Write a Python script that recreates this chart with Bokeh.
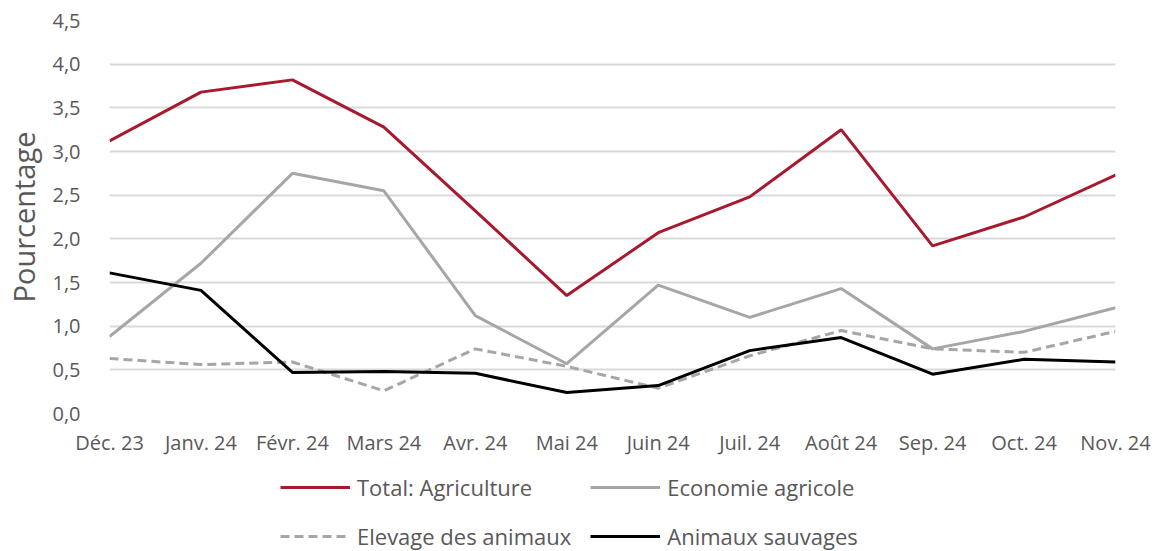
from bokeh.plotting import figure
from bokeh.layouts import column
from bokeh.models import Range1d, FixedTicker, CustomJSTickFormatter, Legend, LegendItem
from bokeh.embed import file_html
from bokeh.resources import INLINE

months = ["Déc. 23", "Janv. 24", "Févr. 24", "Mars 24", "Avr. 24", "Mai 24",
          "Juin 24", "Juil. 24", "Août 24", "Sep. 24", "Oct. 24", "Nov. 24"]
total_agriculture = [3.12, 3.68, 3.82, 3.28, 2.32, 1.35, 2.07, 2.48, 3.25, 1.92, 2.25, 2.73]
economie_agricole = [0.88, 1.72, 2.75, 2.55, 1.12, 0.57, 1.47, 1.10, 1.43, 0.74, 0.94, 1.21]
elevage_animaux = [0.63, 0.56, 0.59, 0.26, 0.74, 0.54, 0.29, 0.66, 0.95, 0.74, 0.70, 0.94]
animaux_sauvages = [1.61, 1.41, 0.47, 0.48, 0.46, 0.24, 0.32, 0.72, 0.87, 0.45, 0.62, 0.59]
y_ticks = [0, 0.5, 1, 1.5, 2, 2.5, 3, 3.5, 4, 4.5]

FONT = "Open Sans"
TXT = "#595959"
RED = "#A6192E"
GREY = "#A6A6A6"
BLACK = "#000000"

series = [
    ("Total: Agriculture", total_agriculture, RED, "solid"),
    ("Economie agricole", economie_agricole, GREY, "solid"),
    ("Elevage des animaux", elevage_animaux, GREY, "9 5"),
    ("Animaux sauvages", animaux_sauvages, BLACK, "solid"),
]

xs = list(range(len(months)))

p = figure(width=1161, height=459, output_backend="svg", toolbar_location=None,
           x_range=Range1d(0, len(months) - 1), y_range=Range1d(0, 4.5),
           min_border_left=109, min_border_right=46, min_border_top=20, min_border_bottom=46)
p.outline_line_color = None
p.background_fill_color = "white"
p.border_fill_color = "white"

p.xgrid.visible = False
p.ygrid.grid_line_color = "#D9D9D9"
p.ygrid.grid_line_width = 2

p.yaxis.ticker = FixedTicker(ticks=y_ticks)
p.yaxis.formatter = CustomJSTickFormatter(code="return tick.toFixed(1).replace('.', ',');")
p.xaxis.ticker = FixedTicker(ticks=xs)
p.xaxis.formatter = CustomJSTickFormatter(args=dict(labels=months),
                                          code="return labels[Math.round(tick)];")
for ax in (p.xaxis[0], p.yaxis[0]):
    ax.axis_line_color = None
    ax.major_tick_line_color = None
    ax.minor_tick_line_color = None
    ax.major_label_text_font = FONT
    ax.major_label_text_color = TXT
    ax.major_label_text_font_size = "20px"
p.yaxis.major_label_standoff = 23
p.xaxis.major_label_standoff = 9
p.yaxis.axis_label = "Pourcentage"
p.yaxis.axis_label_text_font = FONT
p.yaxis.axis_label_text_font_style = "normal"
p.yaxis.axis_label_text_font_size = "29px"
p.yaxis.axis_label_text_color = TXT
p.yaxis.axis_label_standoff = 6

for name, vals, color, dash in series:
    p.line(xs, vals, line_color=color, line_width=3, line_dash=dash)

# legend strip below the chart (its proxy lines fall outside its visible range)
q = figure(width=1161, height=92, output_backend="svg", toolbar_location=None,
           x_range=Range1d(0, len(months) - 1), y_range=Range1d(100, 101),
           x_axis_type=None, y_axis_type=None,
           min_border_left=109, min_border_right=46, min_border_top=0, min_border_bottom=0)
q.outline_line_color = None
q.grid.visible = False
q.background_fill_color = "white"
q.border_fill_color = "white"
proxies = {}
for name, vals, color, dash in series:
    proxies[name] = q.line(xs, vals, line_color=color, line_width=3, line_dash=dash)

order = ["Total: Agriculture", "Elevage des animaux", "Economie agricole", "Animaux sauvages"]
legend = Legend(items=[LegendItem(label=n, renderers=[proxies[n]]) for n in order], ncols=2)
legend.label_text_font = FONT
legend.label_text_font_size = "22px"
legend.label_text_color = TXT
legend.glyph_width = 70
legend.glyph_height = 24
legend.label_height = 24
legend.label_width = 209
legend.label_standoff = 7
legend.spacing = 19
legend.border_line_color = None
legend.background_fill_alpha = 0
legend.padding = 0
legend.margin = 0
legend.location = (171, 0)
q.add_layout(legend, "center")

open("out.html", "w").write(file_html(column(p, q, spacing=0), INLINE))
